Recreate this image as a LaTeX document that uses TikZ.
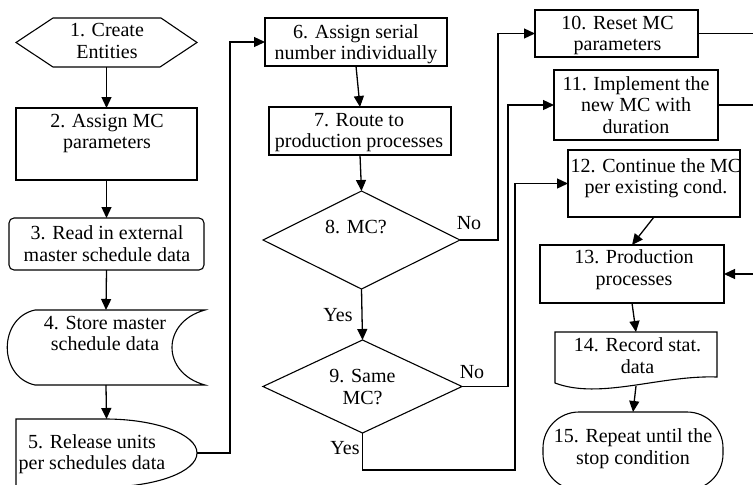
\documentclass[tikz,border=0pt]{standalone}
\usepackage{fontspec}
\setmainfont{Liberation Serif}
\usetikzlibrary{shapes.geometric,arrows.meta}
\begin{document}
\begin{tikzpicture}[x=1pt,y=-1pt,
  shp/.style={draw=black,line width=1.1pt,inner sep=0pt,outer sep=0pt},
  hid/.style={inner sep=0pt,outer sep=0pt},
  box/.style={shp,rectangle},
  txt/.style={align=center,inner sep=0pt,font=\fontsize{20}{21.5}\selectfont},
  arr/.style={line width=1.3pt,-{Triangle[length=11pt,width=10pt]}},
  ln/.style={line width=1.3pt},
]
\useasboundingbox (0,0) rectangle (753,485);
\fill[white] (0,0) rectangle (753,485);
\clip (0,0) rectangle (753,485);

% shapes
\node[hid,minimum width=181pt,minimum height=49pt] (n1) at (106.5,42.5) {};
\draw[shp] (16,42.5) -- (53,18) -- (161,18) -- (197,42.5) -- (160,67) -- (53,67) -- cycle;
\node[box,minimum width=181pt,minimum height=72pt] (n2) at (106.5,144) {};
\node[box,rounded corners=5pt,minimum width=195pt,minimum height=52pt] (n3) at (106.5,244) {};
\node[hid,minimum width=198pt,minimum height=75pt] (n4) at (106,347.5) {};
\draw[shp] (35,310) -- (205,310) .. controls (161,322) and (161,373) .. (205,385) -- (35,385) .. controls (-2,377) and (-2,318) .. (35,310) -- cycle;
\node[hid,minimum width=181pt,minimum height=68pt] (n5) at (106.5,453) {};
\draw[shp] (16,495) -- (16,419) -- (105,419) .. controls (155.8,419) and (197,434.2) .. (197,453) .. controls (197,471.8) and (155.8,487) .. (105,487) -- (16,487);
\node[box,minimum width=182pt,minimum height=48pt] (n6) at (356,42) {};
\node[box,minimum width=182pt,minimum height=48pt] (n7) at (360,131) {};
\node[shp,diamond,minimum width=197pt,minimum height=98pt] (n8) at (361.5,240) {};
\node[shp,diamond,minimum width=199pt,minimum height=93pt] (n9) at (362.5,386.5) {};
\node[box,minimum width=163pt,minimum height=47pt] (n10) at (616.5,33.5) {};
\node[box,minimum width=164pt,minimum height=70pt] (n11) at (636,105) {};
\node[box,minimum width=172pt,minimum height=67pt] (n12) at (654,183.5) {};
\node[box,minimum width=184pt,minimum height=58pt] (n13) at (632,274) {};
\node[hid,minimum width=162pt,minimum height=54pt] (n14) at (636,359) {};
\draw[shp] (555,383) -- (555,332) -- (717,332) -- (717,377) .. controls (660,375) and (600,400) .. (555,383) -- cycle;
\node[box,rounded corners=36pt,minimum width=180pt,minimum height=78pt] (n15) at (633,451) {};

% texts
\node[txt] (t1) at (107,41) {1. Create\\Entities};
\node[txt] (t2) at (107,133.5) {2. Assign MC\\parameters};
\node[txt] (t3) at (107,243.5) {3. Read in external\\master schedule data};
\node[txt] (t4) at (105,333.5) {4. Store master\\schedule data};
\node[txt] (t5) at (92,454) {5. Release units\\per schedules data};
\node[txt] (t6) at (356,44) {6. Assign serial\\number individually};
\node[txt] (t7) at (359,132.5) {7. Route to\\production processes};
\node[txt] (t8) at (356,226.5) {8. MC?};
\node[txt] (t9) at (362.5,387) {9. Same\\MC?};
\node[txt] (t10) at (617.5,35.5) {10. Reset MC\\parameters};
\node[txt] (t11) at (636,105) {11. Implement the\\new MC with\\duration};
\node[txt] (t12) at (656,178) {12. Continue the MC\\per existing cond.};
\node[txt] (t13) at (634,269.5) {13. Production\\processes};
\node[txt] (t14) at (637.5,355.5) {14. Record stat.\\data};
\node[txt] (t15) at (633,448.5) {15. Repeat until the\\stop condition};

% labels
\node[txt] (l8no) at (469,223.5) {No};
\node[txt] (l8yes) at (338,315.5) {Yes};
\node[txt] (l9no) at (472,372.5) {No};
\node[txt] (l9yes) at (345,448.5) {Yes};

% connectors
\draw[arr] (n1.south) -- (n2.north);
\draw[arr] (n2.south) -- (n3.north);
\draw[arr] (n3.south) -- (n4.north);
\draw[arr] (n4.south) -- (n5.north);
\draw[arr] (n5.east) -- ++(33,0) |- (n6.west);
\draw[arr] (n6.south) -- (n7.north);
\draw[arr] (n7.south) -- (n8.north);
\draw[arr] (n8.east) -- ++(38,0) |- (n10.west);
\draw[arr] (n8.south) -- (n9.north);
\draw[arr] (n9.east) -- ++(46,0) |- (n11.west);
\coordinate (c9) at (515,470);
\draw[arr] (n9.south) |- (c9) |- (n12.west);
\coordinate (e10) at (753,33.5);
\draw[ln] (n10.east) -- (e10);
\coordinate (e11) at (753,105);
\draw[ln] (n11.east) -- (e11);
\coordinate (e13) at (753,274);
\draw[arr] (e13) -- (n13.east);
\draw[arr] (n12.south) -- (n13.north);
\draw[arr] (n13.south) -- (n14.north);
\draw[arr] (n14.south) -- (n15.north);
\end{tikzpicture}
\end{document}
